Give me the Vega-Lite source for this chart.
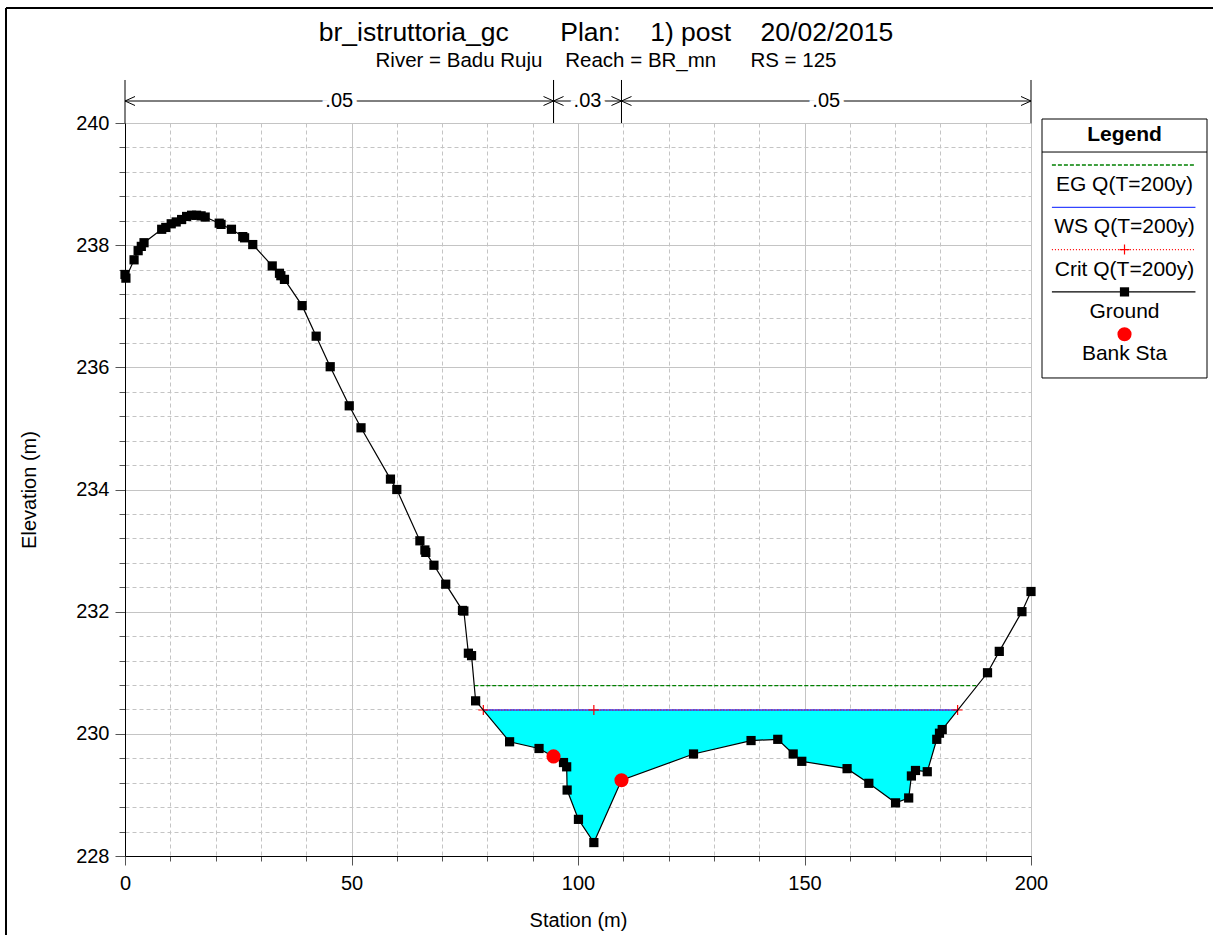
{
  "$schema": "https://vega.github.io/schema/vega-lite/v6.json",
  "background": "white",
  "autosize": {"type": "none"},
  "width": 906,
  "height": 733,
  "padding": {"left": 125, "top": 123, "right": 182, "bottom": 79},
  "title": {
    "text": "br_istruttoria_gc\u00a0\u00a0\u00a0\u00a0\u00a0\u00a0\u00a0Plan:\u00a0\u00a0\u00a0\u00a01) post\u00a0\u00a0\u00a0\u00a020/02/2015",
    "subtitle": "River = Badu Ruju\u00a0\u00a0\u00a0\u00a0Reach = BR_mn\u00a0\u00a0\u00a0\u00a0\u00a0\u00a0RS = 125",
    "font": "Liberation Sans", "fontSize": 26.5, "fontWeight": "normal", "color": "black",
    "subtitleFont": "Liberation Sans", "subtitleFontSize": 20.5, "subtitleColor": "black", "subtitlePadding": 5,
    "anchor": "middle", "offset": -65, "dx": 28
  },
  "datasets": {
    "ground": [
      {"station": 0.0, "elev": 237.52}, {"station": 0.2, "elev": 237.46}, {"station": 2.0, "elev": 237.76},
      {"station": 2.9, "elev": 237.91}, {"station": 3.6, "elev": 237.98}, {"station": 4.2, "elev": 238.04},
      {"station": 8.1, "elev": 238.26}, {"station": 9.0, "elev": 238.29}, {"station": 10.2, "elev": 238.35},
      {"station": 11.3, "elev": 238.38}, {"station": 12.5, "elev": 238.42}, {"station": 13.6, "elev": 238.47},
      {"station": 14.7, "elev": 238.49}, {"station": 15.8, "elev": 238.49}, {"station": 16.8, "elev": 238.48},
      {"station": 17.7, "elev": 238.46}, {"station": 20.8, "elev": 238.36}, {"station": 21.2, "elev": 238.34},
      {"station": 23.5, "elev": 238.26}, {"station": 26.0, "elev": 238.14}, {"station": 26.4, "elev": 238.12},
      {"station": 28.2, "elev": 238.01}, {"station": 32.5, "elev": 237.66}, {"station": 34.1, "elev": 237.54},
      {"station": 34.4, "elev": 237.5}, {"station": 35.2, "elev": 237.44}, {"station": 39.1, "elev": 237.01},
      {"station": 42.2, "elev": 236.51}, {"station": 45.3, "elev": 236.01}, {"station": 49.5, "elev": 235.37},
      {"station": 52.1, "elev": 235.01}, {"station": 58.6, "elev": 234.17}, {"station": 60.0, "elev": 234.0},
      {"station": 65.1, "elev": 233.16}, {"station": 66.2, "elev": 233.01}, {"station": 66.4, "elev": 232.97},
      {"station": 68.2, "elev": 232.76}, {"station": 70.8, "elev": 232.45}, {"station": 74.5, "elev": 232.02},
      {"station": 74.8, "elev": 232.01}, {"station": 75.8, "elev": 231.32}, {"station": 76.5, "elev": 231.28},
      {"station": 77.4, "elev": 230.54}, {"station": 84.9, "elev": 229.87}, {"station": 91.4, "elev": 229.76},
      {"station": 96.8, "elev": 229.53}, {"station": 97.5, "elev": 229.46}, {"station": 97.6, "elev": 229.08},
      {"station": 100.1, "elev": 228.6}, {"station": 103.5, "elev": 228.22}, {"station": 109.6, "elev": 229.24},
      {"station": 125.5, "elev": 229.67}, {"station": 138.2, "elev": 229.89}, {"station": 144.1, "elev": 229.91},
      {"station": 147.5, "elev": 229.67}, {"station": 149.4, "elev": 229.55}, {"station": 159.4, "elev": 229.43},
      {"station": 164.2, "elev": 229.19}, {"station": 170.1, "elev": 228.87}, {"station": 173.0, "elev": 228.95},
      {"station": 173.6, "elev": 229.31}, {"station": 174.5, "elev": 229.4}, {"station": 177.1, "elev": 229.38},
      {"station": 179.2, "elev": 229.91}, {"station": 179.8, "elev": 230.01}, {"station": 180.4, "elev": 230.07},
      {"station": 190.4, "elev": 231.0}, {"station": 193.0, "elev": 231.35}, {"station": 198.0, "elev": 232.0},
      {"station": 200.0, "elev": 232.33}
    ],
    "water": [
      {"station": 79.1, "elev": 230.39}, {"station": 84.9, "elev": 229.87}, {"station": 91.4, "elev": 229.76},
      {"station": 96.8, "elev": 229.53}, {"station": 97.5, "elev": 229.46}, {"station": 97.6, "elev": 229.08},
      {"station": 100.1, "elev": 228.6}, {"station": 103.5, "elev": 228.22}, {"station": 109.6, "elev": 229.24},
      {"station": 125.5, "elev": 229.67}, {"station": 138.2, "elev": 229.89}, {"station": 144.1, "elev": 229.91},
      {"station": 147.5, "elev": 229.67}, {"station": 149.4, "elev": 229.55}, {"station": 159.4, "elev": 229.43},
      {"station": 164.2, "elev": 229.19}, {"station": 170.1, "elev": 228.87}, {"station": 173.0, "elev": 228.95},
      {"station": 173.6, "elev": 229.31}, {"station": 174.5, "elev": 229.4}, {"station": 177.1, "elev": 229.38},
      {"station": 179.2, "elev": 229.91}, {"station": 179.8, "elev": 230.01}, {"station": 180.4, "elev": 230.07},
      {"station": 183.8, "elev": 230.39}
    ],
    "eg": [{"station": 77.1, "elev": 230.79}, {"station": 188.1, "elev": 230.79}],
    "ws": [{"station": 79.1, "elev": 230.39}, {"station": 183.8, "elev": 230.39}],
    "crit": [{"station": 79.1, "elev": 230.39}, {"station": 103.5, "elev": 230.39}, {"station": 183.8, "elev": 230.39}],
    "bank": [{"station": 94.6, "elev": 229.63}, {"station": 109.6, "elev": 229.24}],
    "nvalues": [
      {"start": 0, "end": 94.6, "mid": 47.3, "n": ".05"},
      {"start": 94.6, "end": 109.6, "mid": 102.1, "n": ".03"},
      {"start": 109.6, "end": 200, "mid": 154.8, "n": ".05"}
    ],
    "legend": [
      {"series": "EG Q(T=200y)", "slot": 1},
      {"series": "WS Q(T=200y)", "slot": 2},
      {"series": "Crit Q(T=200y)", "slot": 3},
      {"series": "Ground", "slot": 4},
      {"series": "Bank Sta", "slot": 5}
    ],
    "header": [{"label": "Legend"}]
  },
  "resolve": {"scale": {"x": "independent", "y": "independent"}},
  "layer": [
    {
      "layer": [
        {
          "encoding": {
            "x": {
              "field": "station", "type": "quantitative",
              "scale": {"domain": [0, 200], "nice": false, "zero": false},
              "axis": {
                "title": "Station (m)", "titleFontSize": 20, "titleFontWeight": "normal", "titleColor": "black", "titlePadding": 17,
                "values": [0, 10, 20, 30, 40, 50, 60, 70, 80, 90, 100, 110, 120, 130, 140, 150, 160, 170, 180, 190, 200],
                "tickCount": 100, "tickMinStep": 10,
                "labelExpr": "datum.value % 50 === 0 ? format(datum.value, 'd') : ''",
                "labelFontSize": 20, "labelColor": "black", "labelPadding": 8, "labelFlush": false, "labelOverlap": false,
                "tickColor": "#555555",
                "tickSize": {"condition": {"test": "datum.value % 50 === 0", "value": 9}, "value": 5},
                "domainColor": "black",
                "grid": true, "gridColor": "#c4c4c4",
                "gridDash": {"condition": {"test": "datum.value % 50 === 0", "value": []}, "value": [4, 3]}
              }
            },
            "y": {
              "field": "elev", "type": "quantitative",
              "scale": {"domain": [228, 240], "nice": false, "zero": false},
              "axis": {
                "title": "Elevation (m)", "titleFontSize": 20, "titleFontWeight": "normal", "titleColor": "black", "titlePadding": 36,
                "values": [228, 228.4, 228.8, 229.2, 229.6, 230, 230.4, 230.8, 231.2, 231.6, 232, 232.4, 232.8, 233.2, 233.6, 234, 234.4, 234.8, 235.2, 235.6, 236, 236.4, 236.8, 237.2, 237.6, 238, 238.4, 238.8, 239.2, 239.6, 240],
                "tickCount": 100, "tickMinStep": 0.1,
                "labelExpr": "datum.value % 2 === 0 ? format(datum.value, 'd') : ''",
                "labelFontSize": 20, "labelColor": "black", "labelPadding": 6, "labelOverlap": false, "labelFlush": false,
                "tickColor": "#555555",
                "tickSize": {"condition": {"test": "datum.value % 2 === 0", "value": 10}, "value": 6},
                "domainColor": "black",
                "grid": true, "gridColor": "#c4c4c4",
                "gridDash": {"condition": {"test": "datum.value % 2 === 0", "value": []}, "value": [4, 3]}
              }
            }
          },
          "layer": [
            {
              "data": {"name": "water"},
              "mark": {"type": "area", "color": "#00ffff", "opacity": 1},
              "encoding": {"y2": {"datum": 230.39}}
            },
            {
              "data": {"name": "eg"},
              "mark": {"type": "line", "color": "#008000", "strokeWidth": 1.2, "strokeDash": [4, 2]},
              "encoding": {}
            },
            {
              "data": {"name": "ws"},
              "mark": {"type": "line", "color": "#3344ff", "strokeWidth": 1.5},
              "encoding": {}
            },
            {
              "data": {"name": "crit"},
              "mark": {"type": "line", "color": "#ff0000", "strokeWidth": 1.2, "strokeDash": [1, 2]},
              "encoding": {}
            },
            {
              "data": {"name": "crit"},
              "mark": {"type": "point", "shape": "M-1,0L1,0M0,-1L0,1", "filled": false, "color": "#ff0000", "strokeWidth": 1.2, "size": 100, "opacity": 1}
            },
            {
              "data": {"name": "ground"},
              "mark": {"type": "line", "color": "black", "strokeWidth": 1.2},
              "encoding": {}
            },
            {
              "data": {"name": "ground"},
              "mark": {"type": "point", "shape": "square", "filled": true, "color": "black", "size": 85, "opacity": 1}
            },
            {
              "data": {"name": "bank"},
              "mark": {"type": "point", "shape": "circle", "filled": true, "color": "#ff0000", "size": 200, "opacity": 1}
            }
          ]
        },
        {
          "layer": [
            {
              "data": {"name": "header"},
              "mark": {"type": "rule", "color": "black", "strokeWidth": 2, "clip": false},
              "encoding": {
                "x": {"datum": -26.27, "type": "quantitative"},
                "y": {"datum": 241.883, "type": "quantitative"},
                "y2": {"datum": 226.4}
              }
            },
            {
              "data": {"name": "header"},
              "mark": {"type": "rule", "color": "black", "strokeWidth": 2, "clip": false},
              "encoding": {
                "x": {"datum": -26.27, "type": "quantitative"},
                "x2": {"datum": 242},
                "y": {"datum": 241.883, "type": "quantitative"}
              }
            },
            {
              "data": {"name": "nvalues"},
              "mark": {"type": "rule", "color": "black", "strokeWidth": 1, "clip": false},
              "encoding": {
                "x": {"field": "start", "type": "quantitative"},
                "x2": {"field": "end"},
                "y": {"datum": 240.36, "type": "quantitative"}
              }
            },
            {
              "data": {"name": "nvalues"},
              "mark": {"type": "rule", "color": "black", "strokeWidth": 1, "clip": false},
              "encoding": {
                "x": {"field": "start", "type": "quantitative"},
                "y": {"datum": 240, "type": "quantitative"},
                "y2": {"datum": 240.704}
              }
            },
            {
              "data": {"name": "nvalues"},
              "mark": {"type": "rule", "color": "black", "strokeWidth": 1, "clip": false},
              "encoding": {
                "x": {"field": "end", "type": "quantitative"},
                "y": {"datum": 240, "type": "quantitative"},
                "y2": {"datum": 240.704}
              }
            },
            {
              "data": {"name": "nvalues"},
              "mark": {"type": "point", "shape": "M1,-0.45L0,0L1,0.45", "filled": false, "color": "black", "strokeWidth": 1, "size": 400, "opacity": 1, "clip": false},
              "encoding": {
                "x": {"field": "start", "type": "quantitative"},
                "y": {"datum": 240.36, "type": "quantitative"}
              }
            },
            {
              "data": {"name": "nvalues"},
              "mark": {"type": "point", "shape": "M-1,-0.45L0,0L-1,0.45", "filled": false, "color": "black", "strokeWidth": 1, "size": 400, "opacity": 1, "clip": false},
              "encoding": {
                "x": {"field": "end", "type": "quantitative"},
                "y": {"datum": 240.36, "type": "quantitative"}
              }
            },
            {
              "data": {"name": "nvalues"},
              "mark": {"type": "text", "font": "Liberation Sans", "fontSize": 20, "color": "white", "stroke": "white", "strokeWidth": 9, "baseline": "middle", "clip": false},
              "encoding": {
                "x": {"field": "mid", "type": "quantitative"},
                "y": {"datum": 240.36, "type": "quantitative"},
                "text": {"field": "n"}
              }
            },
            {
              "data": {"name": "nvalues"},
              "mark": {"type": "text", "font": "Liberation Sans", "fontSize": 20, "color": "black", "baseline": "middle", "clip": false},
              "encoding": {
                "x": {"field": "mid", "type": "quantitative"},
                "y": {"datum": 240.36, "type": "quantitative"},
                "text": {"field": "n"}
              }
            }
          ]
        }
      ]
    },
    {
      "layer": [
        {
          "data": {"name": "header"},
          "mark": {"type": "rect", "fill": "white", "stroke": "black", "strokeWidth": 1, "clip": false},
          "encoding": {
            "x": {"datum": 0, "type": "quantitative", "scale": {"domain": [-5.5576, -0.0667], "nice": false, "zero": false}, "axis": null},
            "x2": {"datum": 1},
            "y": {"datum": -0.0875, "type": "quantitative", "scale": {"domain": [0.007, 17.336], "reverse": true, "nice": false, "zero": false}, "axis": null},
            "y2": {"datum": 6.035}
          }
        },
        {
          "data": {"name": "header"},
          "mark": {"type": "text", "font": "Liberation Sans", "fontSize": 21, "fontWeight": "bold", "color": "black", "baseline": "middle", "clip": false},
          "encoding": {
            "x": {"datum": 0.5, "type": "quantitative", "axis": null},
            "y": {"datum": 0.291, "type": "quantitative", "axis": null},
            "text": {"field": "label"}
          }
        },
        {
          "data": {"name": "header"},
          "mark": {"type": "rule", "color": "black", "strokeWidth": 1, "clip": false},
          "encoding": {
            "x": {"datum": 0, "type": "quantitative", "axis": null},
            "x2": {"datum": 1},
            "y": {"datum": 0.693, "type": "quantitative", "axis": null}
          }
        },
        {
          "data": {"name": "legend"},
          "transform": [{"filter": "datum.series !== 'Bank Sta'"}],
          "mark": {"type": "rule", "strokeWidth": 1.3, "clip": false},
          "encoding": {
            "x": {"datum": 0.06, "type": "quantitative", "axis": null},
            "x2": {"datum": 0.93},
            "y": {"field": "slot", "type": "quantitative", "axis": null},
            "color": {
              "field": "series", "type": "nominal", "legend": null,
              "scale": {"domain": ["EG Q(T=200y)", "WS Q(T=200y)", "Crit Q(T=200y)", "Ground", "Bank Sta"], "range": ["#008000", "#3344ff", "#ff0000", "#000000", "#ff0000"]}
            },
            "strokeDash": {
              "field": "series", "type": "nominal", "legend": null,
              "scale": {"domain": ["EG Q(T=200y)", "WS Q(T=200y)", "Crit Q(T=200y)", "Ground", "Bank Sta"], "range": [[4, 2], [1, 0], [1, 2], [1, 0], [1, 0]]}
            }
          }
        },
        {
          "data": {"name": "legend"},
          "transform": [{"filter": "datum.series === 'Crit Q(T=200y)'"}],
          "mark": {"type": "point", "shape": "M-1,0L1,0M0,-1L0,1", "filled": false, "color": "#ff0000", "strokeWidth": 1.2, "size": 100, "opacity": 1, "clip": false},
          "encoding": {
            "x": {"datum": 0.5, "type": "quantitative", "axis": null},
            "y": {"field": "slot", "type": "quantitative", "axis": null}
          }
        },
        {
          "data": {"name": "legend"},
          "transform": [{"filter": "datum.series === 'Ground'"}],
          "mark": {"type": "point", "shape": "square", "filled": true, "color": "black", "size": 85, "opacity": 1, "clip": false},
          "encoding": {
            "x": {"datum": 0.5, "type": "quantitative", "axis": null},
            "y": {"field": "slot", "type": "quantitative", "axis": null}
          }
        },
        {
          "data": {"name": "legend"},
          "transform": [{"filter": "datum.series === 'Bank Sta'"}],
          "mark": {"type": "point", "shape": "circle", "filled": true, "color": "#ff0000", "size": 200, "opacity": 1, "clip": false},
          "encoding": {
            "x": {"datum": 0.5, "type": "quantitative", "axis": null},
            "y": {"field": "slot", "type": "quantitative", "axis": null}
          }
        },
        {
          "data": {"name": "legend"},
          "mark": {"type": "text", "font": "Liberation Sans", "fontSize": 21, "color": "black", "baseline": "middle", "dy": 20, "clip": false},
          "encoding": {
            "x": {"datum": 0.5, "type": "quantitative", "axis": null},
            "y": {"field": "slot", "type": "quantitative", "axis": null},
            "text": {"field": "series"}
          }
        }
      ]
    }
  ],
  "config": {
    "font": "Liberation Sans",
    "view": {"stroke": "black", "strokeWidth": 1},
    "axis": {"labelFont": "Liberation Sans", "titleFont": "Liberation Sans"}
  }
}
